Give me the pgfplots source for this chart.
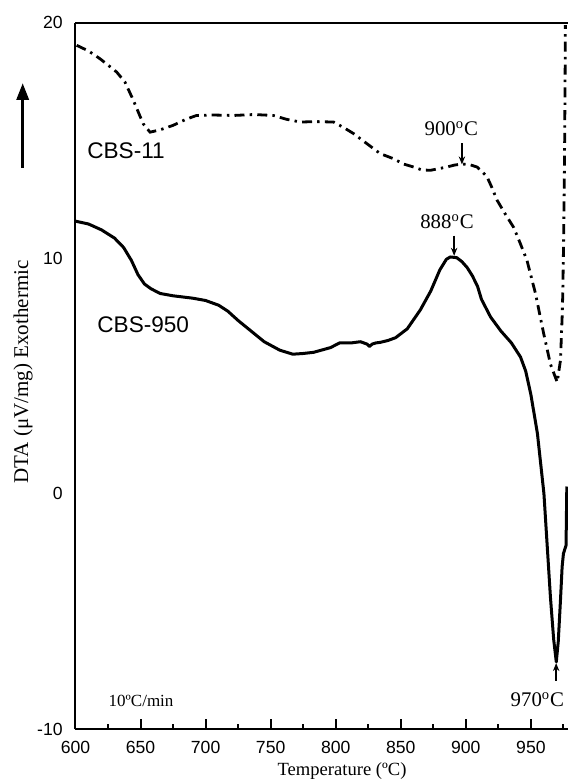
\documentclass[border=0pt]{standalone}
\usepackage{pgfplots}
\pgfplotsset{compat=1.18}
\usepackage{fontspec}
\setmainfont{Liberation Serif}
\newfontfamily\arial{Liberation Sans}
\usetikzlibrary{arrows.meta}

\pgfplotstableread{
x y
600 11.57
610 11.45
620 11.2
630 10.85
637 10.45
643 9.9
648 9.3
653 8.9
658 8.7
665 8.5
675 8.4
690 8.3
700 8.2
710 8.0
717 7.75
725 7.35
735 6.9
745 6.45
757 6.09
767 5.92
775 5.95
783 6.0
796 6.2
803 6.4
812 6.4
819 6.45
824 6.35
826 6.25
828 6.35
831 6.4
834 6.42
840 6.5
846 6.62
855 7.0
865 7.8
873 8.6
880 9.5
885 9.95
888 10.05
893 10.02
897 9.85
901 9.6
905 9.25
909 8.8
912 8.25
919 7.5
927 6.9
935 6.4
942 5.8
946 5.2
950 4.2
955 2.55
960 0.0
962.5 -2.2
965 -4.4
967.5 -6.2
969.5 -7.15
971 -6.3
972.7 -4.55
974 -3.1
975 -2.55
977 -2.2
977.6 0.3
}\cbsnine

\pgfplotstableread{
x y
600.9 19.04
610 18.8
618.8 18.47
625 18.2
631.7 17.9
638 17.48
644.5 16.7
652 15.71
657.3 15.35
665 15.45
675 15.64
685 15.9
693 16.06
705 16.08
721.4 16.06
737 16.1
752 16.06
762 15.9
772.7 15.78
785 15.8
798.3 15.78
806 15.55
813.7 15.29
824 14.86
834.2 14.44
844.5 14.22
852 14.0
859.8 13.87
866 13.75
872.7 13.73
879 13.8
885.5 13.87
891 13.95
897 14.0
903 13.97
908.6 13.87
912 13.7
916.3 13.45
920 13.0
924 12.46
930 11.9
936.8 11.3
942 10.6
947 9.9
953.5 8.5
959.8 6.8
965 5.5
970.2 4.73
972.7 5.65
974 7.5
974.5 8.5
975.2 11
975.8 14
976.2 17
976.5 19.9
}\cbseleven

\begin{document}
\begin{tikzpicture}
\path[use as bounding box] (0,0) rectangle (284pt,391.5pt);
\begin{axis}[
  scale only axis,
  width=246.25pt, height=353.15pt,
  at={(37.75pt,27pt)}, anchor=south west,
  xmin=600, xmax=978.5, ymin=-10, ymax=20,
  axis x line=bottom, axis y line=left,
  axis line style={-, line width=1pt},
  xtick={600,650,...,950},
  minor xtick={625,675,...,975},
  ytick={-10,0,10,20},
  yticklabels={-10,0,10,20},
  tick align=inside,
  major tick length=5pt, minor tick length=2.5pt,
  x tick style={line width=1pt, black},
  y tick style={draw=none},
  tick label style={font=\arial\fontsize{8.8}{10}\selectfont},
  /pgf/number format/assume math mode=true,
  /pgf/number format/1000 sep={},
  xticklabel style={inner sep=0pt, anchor=north, yshift=-5.7pt},
  yticklabel style={inner sep=0pt, anchor=east, xshift=-6.25pt},
  clip mode=individual,
]
\addplot[black, line width=1.5pt, line join=round] table[x=x,y=y] {\cbsnine};
\addplot[black, line width=1.4pt, dash pattern=on 5pt off 2.6pt on 1.2pt off 2.6pt] table[x=x,y=y] {\cbseleven};
\draw[line width=1pt] (rel axis cs:0,1) -- (rel axis cs:1,1);

\node[anchor=west, inner sep=0pt, font=\arial\fontsize{11.3}{13}\selectfont] at (axis cs:608.8,14.58) {CBS-11};
\node[anchor=west, inner sep=0pt, font=\arial\fontsize{11.3}{13}\selectfont] at (axis cs:616.5,7.18) {CBS-950};

\node[inner sep=0pt, font=\fontsize{10.4}{12}\selectfont] at (axis cs:888.8,15.5) {900\textsuperscript{o}C};
\draw[line width=0.7pt, -{Stealth[length=4pt,width=3.2pt]}] (axis cs:897,14.87) -- (axis cs:897,13.98);

\node[inner sep=0pt, font=\fontsize{10.4}{12}\selectfont] at (axis cs:885.5,11.54) {888\textsuperscript{o}C};
\draw[line width=0.7pt, -{Stealth[length=4pt,width=3.2pt]}] (axis cs:891,10.96) -- (axis cs:891,10.1);

\node[inner sep=0pt, font=\fontsize{10.4}{12}\selectfont] at (axis cs:955,-8.75) {970\textsuperscript{o}C};
\draw[line width=0.7pt, -{Stealth[length=4pt,width=3.2pt]}] (axis cs:969.4,-7.95) -- (axis cs:969.4,-7.2);

\node[inner sep=0pt, font=\fontsize{8.5}{10}\selectfont] at (axis cs:650.4,-8.8) {10ºC/min};
\end{axis}
\node[font=\fontsize{9.3}{11}\selectfont, inner sep=0pt] at (171pt,6pt) {Temperature (ºC)};
\node[font=\fontsize{10.5}{12}\selectfont, inner sep=0pt, rotate=90] at (11.5pt,205.5pt) {DTA (μV/mg) Exothermic};
\draw[line width=1.7pt, -{Triangle[length=8.5pt,width=6pt]}] (11.35pt,307.5pt) -- (11.35pt,350pt);
\end{tikzpicture}
\end{document}
